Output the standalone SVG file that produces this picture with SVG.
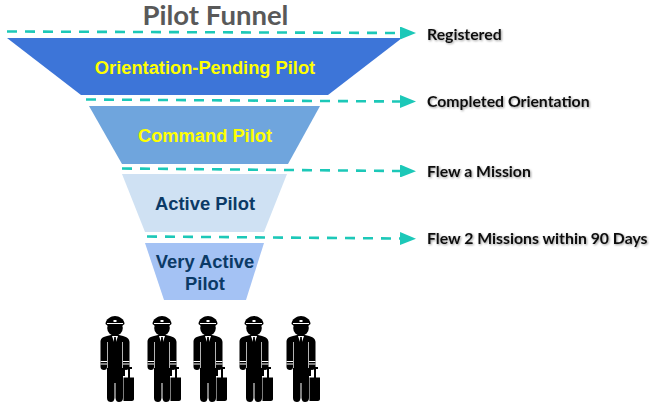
<svg xmlns="http://www.w3.org/2000/svg" width="660" height="406" viewBox="0 0 660 406">
<style>
.lab{font-family:"Liberation Sans",Arial,sans-serif;font-weight:700;text-anchor:middle}
.y{fill:#ffff00;font-size:18.300px}
.d{fill:#0b3a66;font-size:18.400px}
.side{font-family:Lato,"Liberation Sans",sans-serif;font-weight:700;font-size:15.800px;fill:#111;filter:url(#sh)}
.dash{fill:none;stroke:#1cc8b8;stroke-width:2.600;stroke-dasharray:10 8}
.w{fill:#fff}
</style>
<defs>
<marker id="arr" markerUnits="userSpaceOnUse" markerWidth="16" markerHeight="13" refX="0" refY="6.500" orient="auto"><path d="M0,0L16,6.500L0,13Z" fill="#1cc8b8"/></marker>
<filter id="sh" x="-10%" y="-30%" width="120%" height="170%"><feDropShadow dx="1" dy="1" stdDeviation="1" flood-color="#000" flood-opacity=".4"/></filter>
<g id="pilot">
<path d="M105.500,324C105.500,319 111,316 115,316C119,316 124.500,319 124.500,324L122,326H108Z"/>
<circle cx="115" cy="328" r="7.800"/>
<rect class="w" x="107" y="323" width="16" height="1"/>
<rect class="w" x="113.500" y="320" width="3" height="2"/>
<path d="M107,336L111,335H119L123,336C127,337 129.500,339 129.500,342V367C129.500,369 127.500,370 126,370C124,370 123,369 123,367V398C123,401 121,402 119,402C117,402 116,401 115.500,398V383H114.500V398C114,401 113,402 111,402C109,402 107,401 107,398V367C107,369 106,370 104,370C102,370 100.500,369 100.500,367V342C100.500,339 102,337 107,336Z"/>
<path class="w" d="M112,336H118L115,345Z"/>
<path d="M114.200,337H115.800L116.300,345L115,348L113.700,345Z"/>
<path class="w" d="M100.500,361H107V362H100.500ZM100.500,363.500H107V364.500H100.500ZM123,361H129.500V362H123ZM123,363.500H129.500V364.500H123ZM107,342H107.700V368H107ZM122.300,342H123V368H122.300Z"/>
<path d="M123,367H132V369H130V377.500H134V399C134,400 133,401 132,401H123.500V377.500H128V369H125V376H123Z"/>
</g>
</defs>
<text x="215.500" y="24.500" text-anchor="middle" style="font-family:Lato,'Liberation Sans',sans-serif;font-size:27.500px;font-weight:700;fill:#595959">Pilot Funnel</text>
<g id="stage-orientation"><path d="M7,38H402L328,95H81Z" fill="#3d75d8"/><text class="lab y" x="205" y="73.500">Orientation-Pending Pilot</text></g>
<g id="stage-command"><path d="M89,106H320L288,164H122Z" fill="#6fa5dd"/><text class="lab y" x="205" y="141.500">Command Pilot</text></g>
<g id="stage-active"><path d="M122,174H287L264,232H145Z" fill="#cfe1f3"/><text class="lab d" x="205" y="210">Active Pilot</text></g>
<g id="stage-very-active"><path d="M145,243H264L246,300H164Z" fill="#a4c2f4"/><text class="lab d" x="205" y="268">Very Active</text><text class="lab d" x="205" y="290">Pilot</text></g>
<g id="connectors">
<path class="dash" d="M7,31.500L400,33" marker-end="url(#arr)"/>
<path class="dash" d="M86,99.500L400,101.500" marker-end="url(#arr)"/>
<path class="dash" d="M122,168.500L400,171" marker-end="url(#arr)"/>
<path class="dash" d="M147,236.500L400,238.500" marker-end="url(#arr)"/>
</g>
<g id="label-registered"><text class="side" x="427" y="40">Registered</text></g>
<g id="label-completed"><text class="side" x="427" y="107">Completed Orientation</text></g>
<g id="label-flew"><text class="side" x="427" y="177">Flew a Mission</text></g>
<g id="label-flew2"><text class="side" x="427" y="244">Flew 2 Missions within 90 Days</text></g>
<g id="pilots">
<use href="#pilot"/>
<use href="#pilot" x="47"/>
<use href="#pilot" x="93"/>
<use href="#pilot" x="139"/>
<use href="#pilot" x="186"/>
</g>
</svg>
